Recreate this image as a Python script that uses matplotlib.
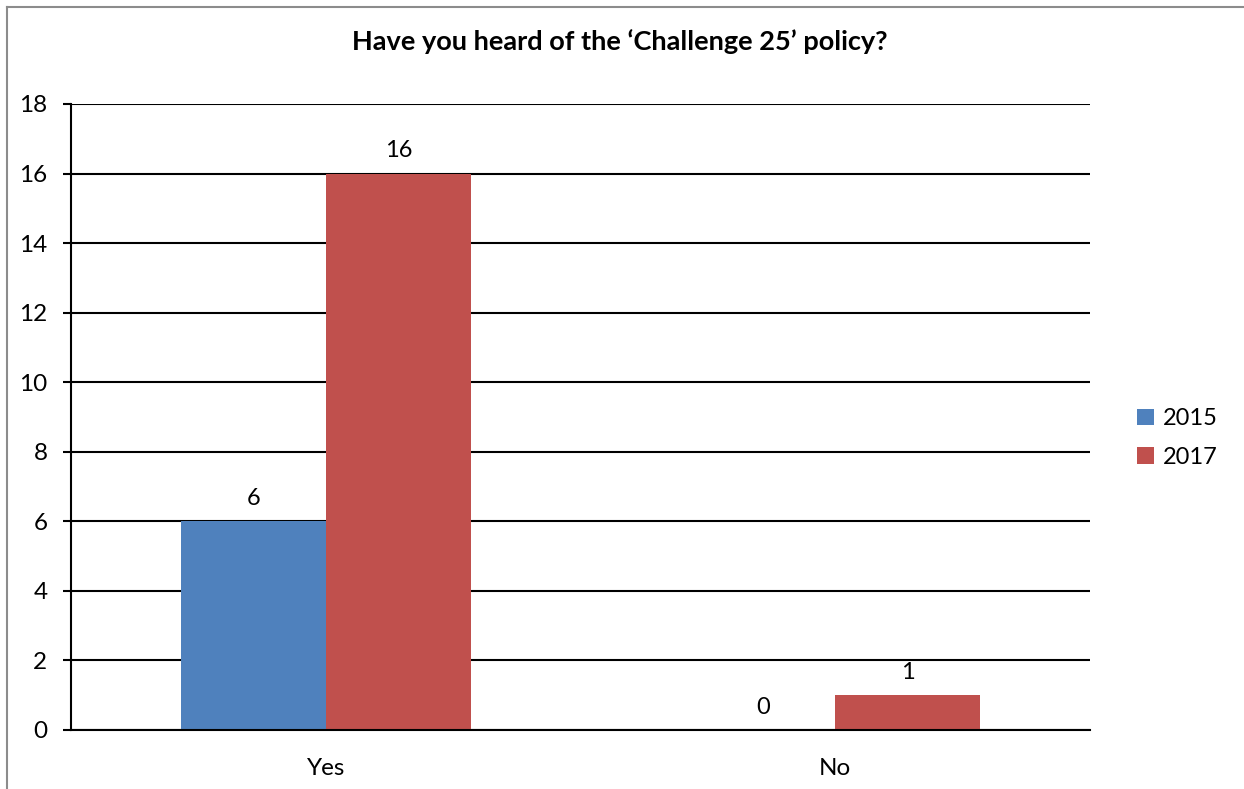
import numpy as np
import matplotlib.pyplot as plt
from matplotlib.lines import Line2D

# data
categories = ['Yes', 'No']
years = ['2015', '2017']
values_2015 = [6, 0]
values_2017 = [16, 1]
colors = ['#4F81BD', '#C0504D']

plt.rcParams['font.family'] = ['Lato', 'DejaVu Sans']

fig = plt.figure(figsize=(12.44, 7.89), dpi=100)
ax = fig.add_axes([71 / 1244, 1 - 730 / 789, (1090 - 71) / 1244, (730 - 104) / 789])

x = np.arange(len(categories))
w = 0.285
bars = []
for i, (vals, yr) in enumerate(zip([values_2015, values_2017], years)):
    b = ax.bar(x + (i - 0.5) * w, vals, width=w, color=colors[i], label=yr, zorder=3)
    bars.append(b)
    for rect, v in zip(b, vals):
        ax.annotate(str(v), (rect.get_x() + rect.get_width() / 2, v),
                    xytext=(0, 9), textcoords='offset points',
                    ha='center', va='bottom', fontsize=17)

ax.set_xlim(-0.5, 1.5)
ax.set_ylim(0, 18)
ax.set_yticks(range(0, 19, 2))
ax.set_xticks(x)
ax.set_xticklabels(categories)
ax.yaxis.grid(True, color='black', linewidth=1.5, zorder=0)
ax.set_axisbelow(True)
for s in ['top', 'right']:
    ax.spines[s].set_visible(False)
ax.spines['left'].set_linewidth(1.5)
ax.spines['bottom'].set_linewidth(1.5)
ax.spines['bottom'].set_zorder(4)
ax.tick_params(axis='y', length=6, width=1.5, pad=11, labelsize=17.5)
ax.tick_params(axis='x', length=0, pad=20, labelsize=17.5)

fig.text(620 / 1244, 1 - 42 / 789, 'Have you heard of the \u2018Challenge 25\u2019 policy?',
         ha='center', va='center', fontsize=19.5, fontweight='bold')

fig.legend(handles=bars, labels=years, loc='center left',
           bbox_to_anchor=(1116 / 1244, 1 - 438 / 789), frameon=False,
           fontsize=17, handlelength=0.7, handleheight=0.7, handletextpad=0.4,
           labelspacing=0.75)

# outer chart border (top and left only visible)
fig.add_artist(Line2D([7 / 1244, 7 / 1244], [0, 1 - 7 / 789], color='#8c8c8c', linewidth=1.5))
fig.add_artist(Line2D([7 / 1244, 1], [1 - 7 / 789, 1 - 7 / 789], color='#8c8c8c', linewidth=1.5))

fig.savefig('out.png', dpi=100)
